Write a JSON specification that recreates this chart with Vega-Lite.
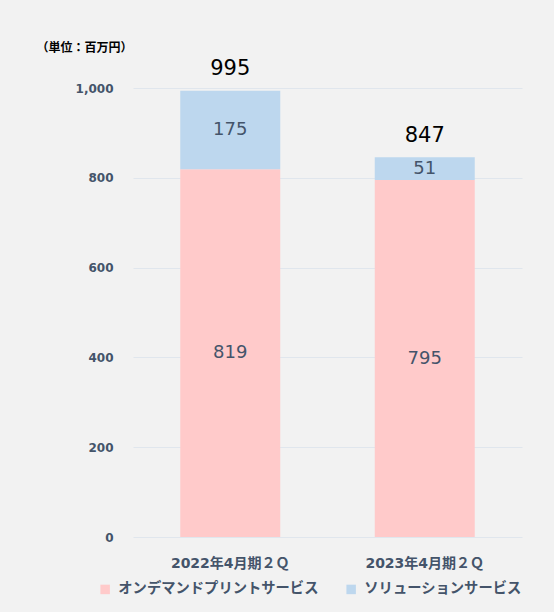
{
  "$schema": "https://vega.github.io/schema/vega-lite/v6.json",
  "width": 389,
  "height": 449,
  "autosize": {"type": "none"},
  "padding": {"left": 133, "top": 88, "right": 32, "bottom": 75},
  "background": "#f2f2f2",
  "config": {
    "font": "DejaVu Sans, Noto Sans CJK JP",
    "view": {"stroke": null}
  },
  "datasets": {
    "segs": [
      {"period": "2022年4月期２Ｑ", "segment": "オンデマンドプリントサービス", "value": 819, "ord": 1},
      {"period": "2022年4月期２Ｑ", "segment": "ソリューションサービス", "value": 175, "ord": 2},
      {"period": "2023年4月期２Ｑ", "segment": "オンデマンドプリントサービス", "value": 795, "ord": 1},
      {"period": "2023年4月期２Ｑ", "segment": "ソリューションサービス", "value": 51, "ord": 2}
    ],
    "totals": [
      {"period": "2022年4月期２Ｑ", "total": 995},
      {"period": "2023年4月期２Ｑ", "total": 847}
    ]
  },
  "encoding": {
    "x": {
      "field": "period", "type": "nominal", "sort": null,
      "scale": {"paddingInner": 0.485, "paddingOuter": 0.2425},
      "axis": {
        "title": null, "labelAngle": 0, "domain": false, "ticks": false,
        "labelFontSize": 14, "labelFontWeight": "bold", "labelColor": "#44546a",
        "labelPadding": 19
      }
    }
  },
  "layer": [
    {
      "data": {"name": "segs"},
      "mark": {"type": "bar", "width": 100},
      "encoding": {
        "y": {
          "field": "value", "type": "quantitative", "stack": "zero",
          "scale": {"domain": [0, 1000], "nice": false},
          "axis": {
            "values": [0, 200, 400, 600, 800, 1000],
            "format": ",d",
            "domain": false, "ticks": false,
            "gridColor": "#e0e6ed", "gridWidth": 1,
            "labelFontSize": 12, "labelFontWeight": "bold", "labelColor": "#44546a",
            "labelPadding": 20,
            "title": "（単位：百万円）",
            "titleAngle": 0, "titleX": -97, "titleY": -41,
            "titleAlign": "left", "titleBaseline": "middle",
            "titleFontSize": 12, "titleFontWeight": "bold", "titleColor": "#000000"
          }
        },
        "color": {
          "field": "segment", "type": "nominal",
          "scale": {
            "domain": ["オンデマンドプリントサービス", "ソリューションサービス"],
            "range": ["#ffcaca", "#bdd7ee"]
          },
          "legend": {
            "title": null, "orient": "none", "direction": "horizontal",
            "legendX": -35, "legendY": 494,
            "symbolType": "square", "symbolSize": 90, "symbolStrokeWidth": 0,
            "labelFontSize": 14.3, "labelFontWeight": "bold", "labelColor": "#44546a",
            "labelOffset": 6, "columnPadding": 25, "labelLimit": 300
          }
        },
        "order": {"field": "ord", "type": "quantitative"}
      }
    },
    {
      "data": {"name": "segs"},
      "mark": {"type": "text", "fontSize": 18, "color": "#44546a", "baseline": "middle"},
      "encoding": {
        "y": {"field": "value", "type": "quantitative", "stack": "zero", "bandPosition": 0.5},
        "text": {"field": "value", "type": "quantitative"},
        "detail": {"field": "segment"},
        "order": {"field": "ord", "type": "quantitative"}
      }
    },
    {
      "data": {"name": "totals"},
      "mark": {"type": "text", "fontSize": 21, "color": "#000000", "baseline": "middle", "dy": -21},
      "encoding": {
        "y": {"field": "total", "type": "quantitative"},
        "text": {"field": "total", "type": "quantitative"}
      }
    }
  ]
}
